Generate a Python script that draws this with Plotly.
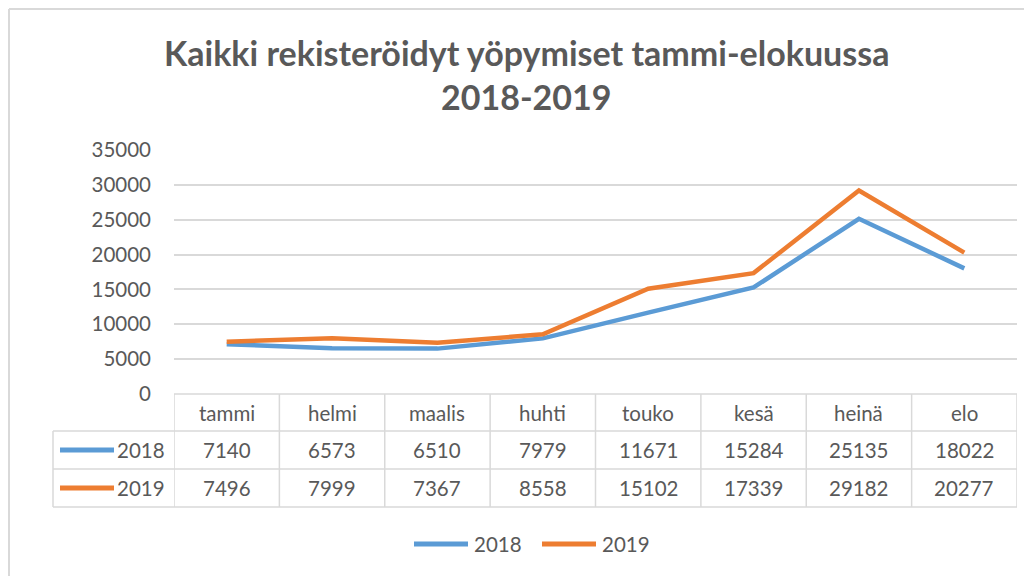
import plotly.graph_objects as go

# ---- data ----
months = ["tammi", "helmi", "maalis", "huhti", "touko", "kesä", "heinä", "elo"]
series_names = ["2018", "2019"]
values_2018 = [7140, 6573, 6510, 7979, 11671, 15284, 25135, 18022]
values_2019 = [7496, 7999, 7367, 8558, 15102, 17339, 29182, 20277]
y_ticks = [0, 5000, 10000, 15000, 20000, 25000, 30000, 35000]
title_lines = ["Kaikki rekisteröidyt yöpymiset tammi-elokuussa", "2018-2019"]

# ---- style ----
OFF = 8                      # page body margin in the browser
W, H = 1032 - OFF, 576 - OFF
PL, PR, PT, PB = 174 - OFF, 1017 - OFF, 150 - OFF, 394 - OFF   # plot area in figure pixels
colors = ["#5B9BD5", "#ED7D31"]
text_color = "#595959"
grid_color = "#D9D9D9"
FONT = "Lato"


def px(p):
    """screen x pixel -> paper coordinate"""
    return (p - OFF - PL) / (PR - PL)


def py(p):
    """screen y pixel -> paper coordinate"""
    return (PB - (p - OFF)) / (PB - PT)


fig = go.Figure()
series = [values_2018, values_2019]
for name, vals, col in zip(series_names, series, colors):
    fig.add_trace(go.Scatter(
        x=months, y=vals, name=name, mode="lines",
        line=dict(color=col, width=4.5), showlegend=False,
    ))

shapes = []
annotations = []

# chart border (left + top)
shapes.append(dict(type="line", xref="paper", yref="paper", x0=px(9), x1=px(9),
                   y0=py(9), y1=py(600), line=dict(color=grid_color, width=2)))
shapes.append(dict(type="line", xref="paper", yref="paper", x0=px(9), x1=px(1100),
                   y0=py(9), y1=py(9), line=dict(color=grid_color, width=2)))

# title
for line, yc in zip(title_lines, [52, 96]):
    annotations.append(dict(text=f"<b>{line}</b>", xref="paper", yref="paper",
                            x=px(526), y=py(yc), xanchor="center", yanchor="middle",
                            showarrow=False, font=dict(family=FONT, size=34, color=text_color)))

# data table grid
row_edges = [394, 431, 469, 507]
tcol = dict(color=grid_color, width=1.5)
shapes.append(dict(type="line", xref="paper", yref="paper", x0=0, x1=1,
                   y0=py(394), y1=py(394), line=tcol))
for r in row_edges[1:]:
    shapes.append(dict(type="line", xref="paper", yref="paper", x0=px(53), x1=1,
                       y0=py(r), y1=py(r), line=tcol))
shapes.append(dict(type="line", xref="paper", yref="paper", x0=px(53), x1=px(53),
                   y0=py(431), y1=py(507), line=tcol))
for i in range(len(months) + 1):
    shapes.append(dict(type="line", xref="x", yref="paper", x0=i - 0.5, x1=i - 0.5,
                       y0=py(394), y1=py(507), line=tcol))

# header row (month names)
for m in months:
    annotations.append(dict(text=m, xref="x", yref="paper", x=m, y=py(412.5),
                            xanchor="center", yanchor="middle", showarrow=False,
                            font=dict(family=FONT, size=20.5, color=text_color)))
# value rows
row_centers = [450, 488]
for name, vals, col, yc in zip(series_names, series, colors, row_centers):
    shapes.append(dict(type="line", xref="paper", yref="paper", x0=px(60), x1=px(114),
                       y0=py(yc), y1=py(yc), line=dict(color=col, width=5)))
    annotations.append(dict(text=name, xref="paper", yref="paper", x=px(167), y=py(yc),
                            xanchor="right", yanchor="middle", showarrow=False,
                            font=dict(family=FONT, size=20.5, color=text_color)))
    for m, v in zip(months, vals):
        annotations.append(dict(text=str(v), xref="x", yref="paper", x=m, y=py(yc),
                                xanchor="center", yanchor="middle", showarrow=False,
                                font=dict(family=FONT, size=20.5, color=text_color)))

# bottom legend
legend_pos = [(414, 468, 472), (542, 596, 600)]
for name, col, (s0, s1, tx) in zip(series_names, colors, legend_pos):
    shapes.append(dict(type="line", xref="paper", yref="paper", x0=px(s0), x1=px(s1),
                       y0=py(544), y1=py(544), line=dict(color=col, width=5)))
    annotations.append(dict(text=name, xref="paper", yref="paper", x=px(tx), y=py(544),
                            xanchor="left", yanchor="middle", showarrow=False,
                            font=dict(family=FONT, size=20.5, color=text_color)))

fig.update_layout(
    width=W, height=H,
    margin=dict(l=PL, r=W - PR, t=PT, b=H - PB),
    paper_bgcolor="white", plot_bgcolor="white",
    font=dict(family=FONT, color=text_color),
    xaxis=dict(type="category", range=[-0.5, len(months) - 0.5], showgrid=False,
               showticklabels=False, zeroline=False, showline=False, ticks=""),
    yaxis=dict(range=[0, 35000], tickvals=y_ticks, ticktext=[str(t) for t in y_ticks],
               showgrid=True, gridcolor=grid_color, gridwidth=1.5, zeroline=False,
               showline=False, ticks="", ticklabelstandoff=22,
               tickfont=dict(family=FONT, size=20.5, color=text_color)),
    shapes=shapes, annotations=annotations, showlegend=False,
)

fig.write_html("out.html")
